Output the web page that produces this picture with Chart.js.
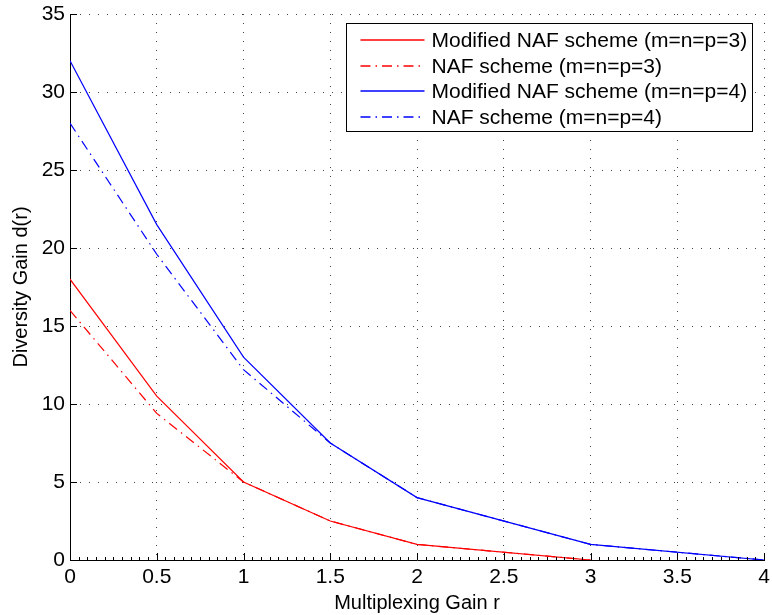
<!DOCTYPE html>
<html>
<head>
<meta charset="utf-8">
<script src="https://cdn.jsdelivr.net/npm/chart.js@4.4.0/dist/chart.umd.min.js"></script>
<style>
html,body{margin:0;padding:0;background:#fff;}
#wrap{width:772px;height:615px;position:relative;}
</style>
</head>
<body>
<div id="wrap"><canvas id="c" width="772" height="615"></canvas></div>
<script>
// Data
const rValues = [0, 0.5, 1, 1.5, 2, 3, 4];
const modNaf3 = [18, 10.5, 5, 2.5, 1, 0, null];
const naf3 = [16, 9.4, 5, 2.5, 1, 0, null];
const modNaf4 = [32, 21.5, 13, 7.5, 4, 1, 0];
const naf4 = [28, 19.6, 12.2, 7.5, 4, 1, 0];
const seriesLabels = [
  'Modified NAF scheme (m=n=p=3)',
  'NAF scheme (m=n=p=3)',
  'Modified NAF scheme (m=n=p=4)',
  'NAF scheme (m=n=p=4)'
];
const xTitle = 'Multiplexing Gain r';
const yTitle = 'Diversity Gain d(r)';

// Styles
const FONT = "'Liberation Sans', Arial, Helvetica, sans-serif";
const DASHDOT = [10, 5, 1.5, 5];
const seriesColors = ['#ff0000', '#ff0000', '#0000ff', '#0000ff'];
const seriesDashes = [[], DASHDOT, [], DASHDOT];

function toPts(ys) {
  const out = [];
  rValues.forEach((x, i) => { if (ys[i] !== null) out.push({x: x, y: ys[i]}); });
  return out;
}

const seriesValues = [modNaf3, naf3, modNaf4, naf4];
const datasets = seriesValues.map((vals, i) => ({
  label: seriesLabels[i],
  data: toPts(vals),
  borderColor: seriesColors[i],
  backgroundColor: seriesColors[i],
  borderDash: seriesDashes[i],
  borderWidth: 1.2, pointRadius: 0, fill: false, tension: 0
}));

const inwardTicks = {
  id: 'inwardTicks',
  afterDatasetsDraw(chart) {
    const ctx = chart.ctx, a = chart.chartArea;
    const xs = chart.scales.x, ys = chart.scales.y;
    ctx.save();
    ctx.strokeStyle = '#000';
    ctx.lineWidth = 1;
    ctx.setLineDash([]);
    ctx.beginPath();
    for (let i = 0; i <= 80; i++) {
      const v = i * 0.05;
      const px = Math.round(xs.getPixelForValue(v)) + 0.5;
      const len = (i % 10 === 0) ? 7 : 3;
      ctx.moveTo(px, a.bottom);
      ctx.lineTo(px, a.bottom - len);
    }
    ys.ticks.forEach(t => {
      const py = Math.round(ys.getPixelForValue(t.value)) + 0.5;
      ctx.moveTo(a.left, py);
      ctx.lineTo(a.left + 7, py);
    });
    ctx.stroke();
    ctx.restore();
  }
};

const boxLegend = {
  id: 'boxLegend',
  afterDraw(chart) {
    const ctx = chart.ctx, a = chart.chartArea;
    ctx.save();
    ctx.font = '21px ' + FONT;
    let maxW = 0;
    seriesLabels.forEach(t => { maxW = Math.max(maxW, ctx.measureText(t).width); });
    const sampleLen = 64, padL = 14, gap = 7, padR = 5;
    const rowH = 25.7, firstRow = 16.5;
    const w = Math.round(padL + sampleLen + gap + maxW + padR);
    const h = 108;
    const x0 = Math.round(a.right - 12 - w) + 0.5;
    const y0 = Math.round(a.top + 9) + 0.5;
    ctx.fillStyle = '#ffffff';
    ctx.fillRect(x0, y0, w, h);
    ctx.strokeStyle = '#000000';
    ctx.lineWidth = 1;
    ctx.setLineDash([]);
    ctx.strokeRect(x0, y0, w, h);
    for (let i = 0; i < seriesLabels.length; i++) {
      const ly = Math.round(y0 + firstRow + rowH * i);
      ctx.beginPath();
      ctx.strokeStyle = seriesColors[i];
      ctx.lineWidth = 1.6;
      ctx.setLineDash(seriesDashes[i]);
      ctx.moveTo(x0 + padL, ly);
      ctx.lineTo(x0 + padL + sampleLen, ly);
      ctx.stroke();
      ctx.setLineDash([]);
      ctx.fillStyle = '#000000';
      ctx.textBaseline = 'alphabetic';
      ctx.textAlign = 'left';
      ctx.fillText(seriesLabels[i], x0 + padL + sampleLen + gap, ly + 7);
    }
    ctx.restore();
  }
};

new Chart(document.getElementById('c'), {
  type: 'line',
  data: {datasets: datasets},
  plugins: [inwardTicks, boxLegend],
  options: {
    responsive: false,
    animation: false,
    devicePixelRatio: 1,
    layout: {padding: {top: 14, right: 8, left: 0, bottom: 0}},
    plugins: {legend: {display: false}, tooltip: {enabled: false}, colors: {enabled: false}},
    scales: {
      x: {
        type: 'linear', min: 0, max: 4,
        ticks: {stepSize: 0.5, color: '#000', font: {family: FONT, size: 21}, padding: 5, maxRotation: 0,
                callback: v => String(v)},
        grid: {color: '#444', drawTicks: false, lineWidth: 1, tickLength: 0},
        border: {display: true, color: '#000', width: 1, dash: [1, 8]},
        title: {display: true, text: xTitle, color: '#000', font: {family: FONT, size: 20}, padding: {top: 0, bottom: 0}},
        afterFit: s => { s.height = 55; s.paddingLeft = 0; s.paddingRight = 0; }
      },
      y: {
        type: 'linear', min: 0, max: 35,
        ticks: {stepSize: 5, color: '#000', font: {family: FONT, size: 21}, padding: 5},
        grid: {color: '#444', drawTicks: false, lineWidth: 1},
        border: {display: true, color: '#000', width: 1, dash: [1, 8]},
        title: {display: true, text: yTitle, color: '#000', font: {family: FONT, size: 20}, padding: {top: 9, bottom: 0}},
        afterFit: s => { s.width = 70; s.paddingTop = 0; s.paddingBottom = 0; }
      }
    }
  }
});
</script>
</body>
</html>
